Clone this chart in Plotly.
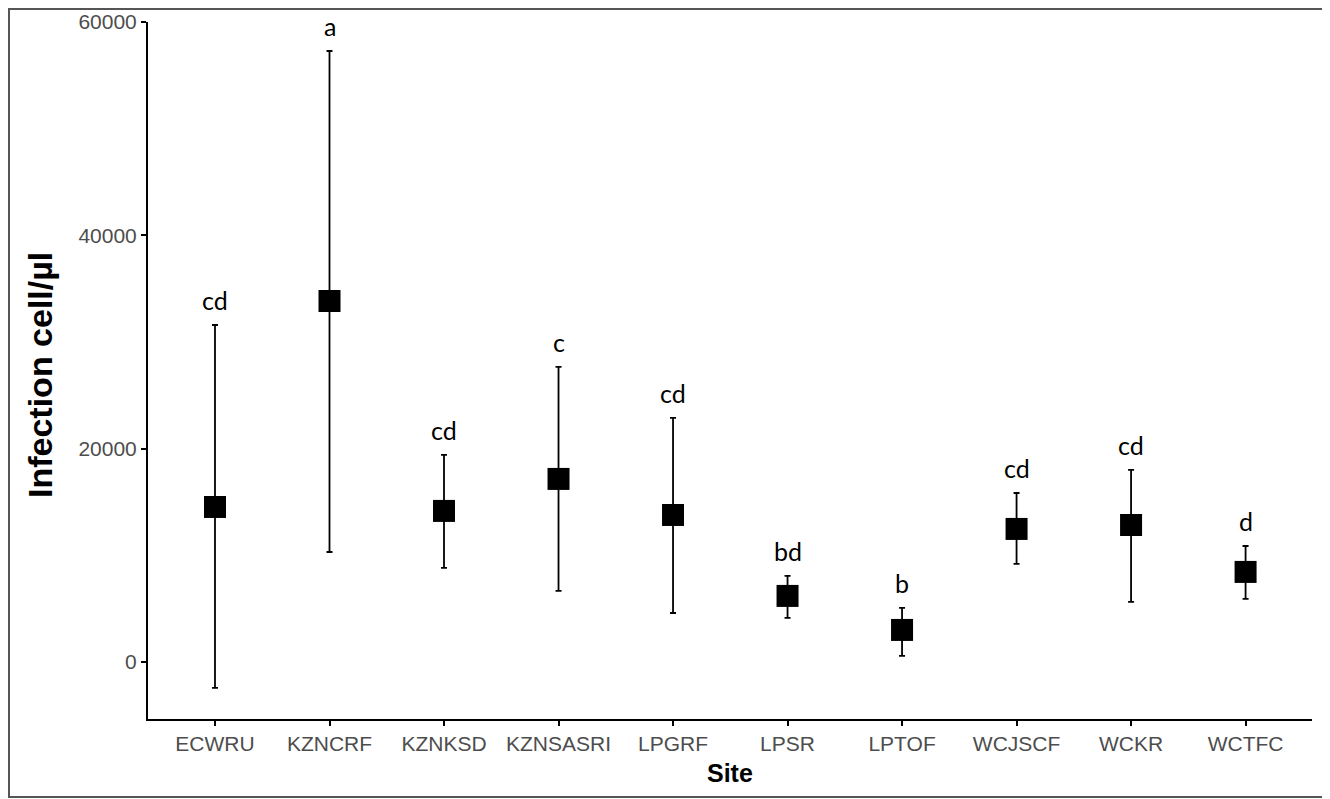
import plotly.graph_objects as go

sites = ["ECWRU", "KZNCRF", "KZNKSD", "KZNSASRI", "LPGRF", "LPSR", "LPTOF", "WCJSCF", "WCKR", "WCTFC"]
means = [14530, 33840, 14160, 17160, 13780, 6190, 3000, 12470, 12840, 8440]
upper = [31590, 57280, 19410, 27660, 22880, 8060, 5060, 15840, 18000, 10870]
lower = [-2440, 10310, 8810, 6660, 4590, 4130, 560, 9190, 5630, 5910]
letters = ["cd", "a", "cd", "c", "cd", "bd", "b", "cd", "cd", "d"]
ytick_vals = [0, 20000, 40000, 60000]

err_plus = [u - m for u, m in zip(upper, means)]
err_minus = [m - l for m, l in zip(means, lower)]

# page body has an 8px margin: figure is placed at (8, 8) in the window
W, H = 1322, 791
L, R, T, B = 140, 18, 14, 80
PW, PH = W - L - R, H - T - B

fig = go.Figure()
fig.add_trace(go.Scatter(
    x=sites, y=means, mode="markers",
    marker=dict(symbol="square", size=22, color="black"),
    error_y=dict(type="data", symmetric=False, array=err_plus, arrayminus=err_minus,
                 color="black", thickness=1.8, width=3),
    showlegend=False,
))

for s, u, t in zip(sites, upper, letters):
    fig.add_annotation(x=s, y=u, text=t, showarrow=False, yanchor="bottom", yshift=8,
                       font=dict(family="Lato, Open Sans, sans-serif", size=25, color="black"))

# axis titles
fig.add_annotation(xref="paper", yref="paper", x=-108 / PW, y=(711 - 367) / PH,
                   text="<b>Infection cell/µl</b>", textangle=-90, showarrow=False,
                   xanchor="center", yanchor="middle",
                   font=dict(family="Liberation Sans, Arial, sans-serif", size=34, color="black"))
fig.add_annotation(xref="paper", yref="paper", x=0.5, y=(711 - 765) / PH,
                   text="<b>Site</b>", showarrow=False, xanchor="center", yanchor="middle",
                   font=dict(family="Liberation Sans, Arial, sans-serif", size=25, color="black"))

fig.update_layout(
    width=W, height=H,
    paper_bgcolor="white", plot_bgcolor="white",
    margin=dict(l=L, r=R, t=T, b=B, autoexpand=False),
    font=dict(family="Liberation Sans, Arial, sans-serif"),
    xaxis=dict(
        range=[-0.585, 9.58], showgrid=False, zeroline=False, automargin=False,
        showline=True, linecolor="black", linewidth=2,
        ticks="outside", ticklen=5, tickcolor="black", tickwidth=1.5,
        tickfont=dict(size=21, color="#4d4d4d"),
    ),
    yaxis=dict(
        range=[-5350, 60000], showgrid=False, zeroline=False, automargin=False,
        showline=True, linecolor="black", linewidth=2,
        ticks="outside", ticklen=5, tickcolor="black", tickwidth=1.5,
        tickvals=ytick_vals, tickformat="d",
        tickfont=dict(size=21, color="#4d4d4d"),
    ),
)

# outer frame around the figure
fig.add_shape(type="rect", xref="paper", yref="paper",
              x0=(1 - L) / PW, x1=(1312 - 8 + 16 - L) / PW,
              y0=(711 - 789) / PH, y1=(711 - 1) / PH,
              line=dict(color="#555555", width=2), fillcolor="rgba(0,0,0,0)", layer="below")

fig.write_html("out.html")
